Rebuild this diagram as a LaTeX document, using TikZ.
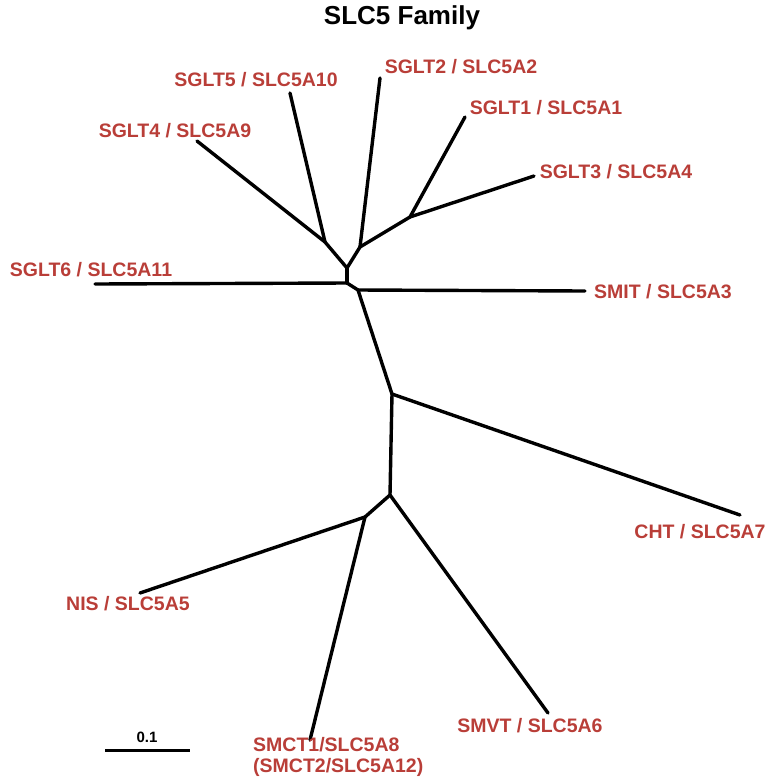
\documentclass[tikz,border=0pt]{standalone}
\usepackage{fontspec}
\setmainfont{Liberation Sans}
\definecolor{lblred}{RGB}{185,62,56}
\begin{document}
\begin{tikzpicture}[x=1pt,y=-1pt,
  branch/.style={line width=3.4pt,line cap=round,line join=round},
  leaf/.style={text=lblred,font=\fontsize{19.5}{21}\selectfont\bfseries,inner sep=0pt},
  ttl/.style={font=\fontsize{26}{28}\selectfont\bfseries,inner sep=0pt},
  scl/.style={font=\fontsize{15}{17}\selectfont\bfseries,inner sep=0pt}]
\useasboundingbox (0,0) rectangle (773,780);
% junctions
\coordinate (j1) at (325,242);
\coordinate (j2) at (360,247);
\coordinate (j3) at (347,268);
\coordinate (j4) at (347,283);
\coordinate (j5) at (358,290);
\coordinate (j13) at (410,217);
\coordinate (jc) at (392,394);
\coordinate (jd) at (390,495);
\coordinate (je) at (365,517);
% leaves
\coordinate (l4) at (197,141);
\coordinate (l5) at (290,93);
\coordinate (l2) at (380,78);
\coordinate (l1) at (465,117);
\coordinate (l3) at (534,176);
\coordinate (l6) at (95,284);
\coordinate (lsmit) at (585,291);
\coordinate (lcht) at (740,515);
\coordinate (lnis) at (140,593);
\coordinate (lsmct) at (310,740);
\coordinate (lsmvt) at (548,713);
% tree
\draw[branch] (l4) -- (j1);
\draw[branch] (l5) -- (j1);
\draw[branch] (j1) -- (j3);
\draw[branch] (l2) -- (j2);
\draw[branch] (l1) -- (j13);
\draw[branch] (l3) -- (j13);
\draw[branch] (j13) -- (j2);
\draw[branch] (j2) -- (j3);
\draw[branch] (j3) -- (j4);
\draw[branch] (l6) -- (j4);
\draw[branch] (j4) -- (j5);
\draw[branch] (j5) -- (lsmit);
\draw[branch] (j5) -- (jc);
\draw[branch] (jc) -- (lcht);
\draw[branch] (jc) -- (jd);
\draw[branch] (jd) -- (je);
\draw[branch] (je) -- (lnis);
\draw[branch] (je) -- (lsmct);
\draw[branch] (jd) -- (lsmvt);
% labels
\node[ttl] (title) at (402,18) {SLC5 Family};
\node[leaf] (t4) at (175,131) {SGLT4 / SLC5A9};
\node[leaf] (t5) at (256,80) {SGLT5 / SLC5A10};
\node[leaf] (t2) at (461,67) {SGLT2 / SLC5A2};
\node[leaf] (t1) at (546,108) {SGLT1 / SLC5A1};
\node[leaf] (t3) at (616,172) {SGLT3 / SLC5A4};
\node[leaf] (t6) at (91,270) {SGLT6 / SLC5A11};
\node[leaf] (tsmit) at (663,292) {SMIT / SLC5A3};
\node[leaf] (tcht) at (700,532) {CHT / SLC5A7};
\node[leaf] (tnis) at (128,604) {NIS / SLC5A5};
\node[leaf,align=left,anchor=west] (tsmct) at (253,757) {SMCT1/SLC5A8\\(SMCT2/SLC5A12)};
\node[leaf] (tsmvt) at (530,726) {SMVT / SLC5A6};
% scale bar
\coordinate (sa) at (105,750);
\coordinate (sb) at (190,750);
\draw[line width=3pt] (sa) -- (sb);
\node[scl] (sl) at (147,737) {0.1};
\end{tikzpicture}
\end{document}
